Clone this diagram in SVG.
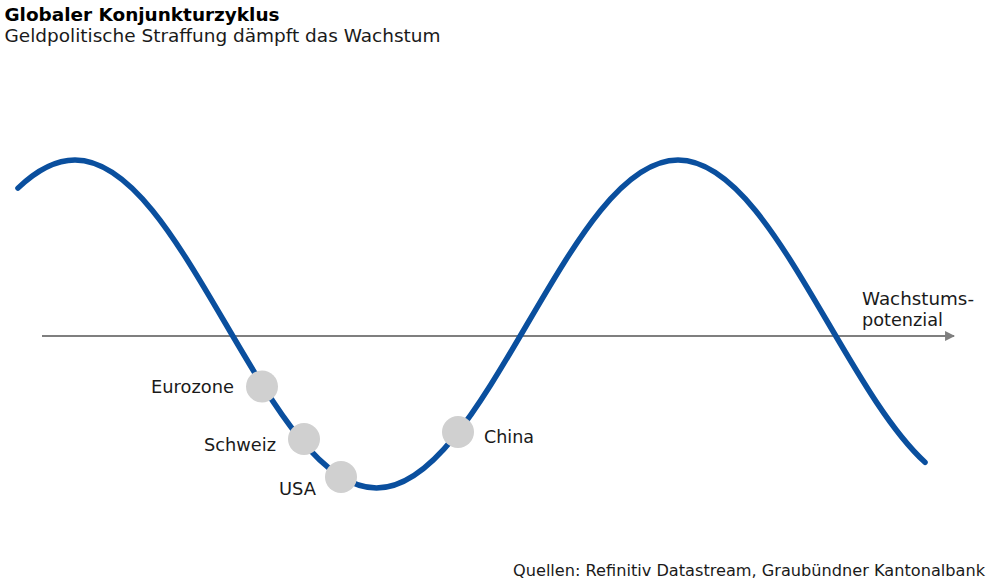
<svg xmlns="http://www.w3.org/2000/svg" width="1001" height="587" viewBox="0 0 1001 587">
<style>
text{font-family:"DejaVu Sans","Verdana",sans-serif;fill:#1a1a1a}
.t{font-size:17px;font-weight:bold;fill:#000}
.s{font-size:17px}
.l{font-size:17.5px}
.f{font-size:16px}
.dot{fill:#d0d0d0}
</style>
<defs>
<marker id="ah" viewBox="0 0 10 10" refX="9" refY="5" markerWidth="5" markerHeight="4.5" orient="auto" markerUnits="strokeWidth">
<path d="M0,0 L10,5 L0,10 z" fill="#7f7f7f"/>
</marker>
</defs>
<rect width="1001" height="587" fill="#fff"/>
<text class="t" x="4.5" y="20.5" textLength="275" lengthAdjust="spacingAndGlyphs">Globaler Konjunkturzyklus</text>
<text class="s" x="4.5" y="41.5" textLength="436" lengthAdjust="spacingAndGlyphs">Geldpolitische Straffung dämpft das Wachstum</text>
<g id="connectors">
<line id="axis" x1="42" y1="336" x2="954" y2="336" stroke="#7f7f7f" stroke-width="2.2" marker-end="url(#ah)"/>
<path id="wave" d="M17.95,188.13 C36.28,170.6 55.14,160 75,160 C129.56,160 176.59,240 225.75,324 C274.92,408 321.94,488 376.5,488 C431.06,488 478.09,408 527.25,324 C576.42,240 623.44,160 678,160 C732.56,160 779.59,240 828.75,324 C860.86,378.85 892.05,432 925.03,462.28" fill="none" stroke="#0a4f9e" stroke-width="5.5" stroke-linecap="round"/>
</g>
<g id="axis-label">
<text class="l" x="862" y="304.5" textLength="112" lengthAdjust="spacingAndGlyphs">Wachstums-</text>
<text class="l" x="862" y="325.5" textLength="81" lengthAdjust="spacingAndGlyphs">potenzial</text>
</g>
<g id="eurozone">
<circle class="dot" cx="262" cy="386.5" r="16"/>
<text class="l" x="151" y="393" textLength="83" lengthAdjust="spacingAndGlyphs">Eurozone</text>
</g>
<g id="schweiz">
<circle class="dot" cx="304" cy="439" r="16"/>
<text class="l" x="204" y="451" textLength="72" lengthAdjust="spacingAndGlyphs">Schweiz</text>
</g>
<g id="usa">
<circle class="dot" cx="341" cy="477" r="16"/>
<text class="l" x="279" y="495" textLength="37" lengthAdjust="spacingAndGlyphs">USA</text>
</g>
<g id="china">
<circle class="dot" cx="458" cy="432" r="16"/>
<text class="l" x="484" y="443" textLength="50" lengthAdjust="spacingAndGlyphs">China</text>
</g>
<text class="f" x="513" y="576" textLength="472" lengthAdjust="spacingAndGlyphs">Quellen: Refinitiv Datastream, Graubündner Kantonalbank</text>
</svg>
